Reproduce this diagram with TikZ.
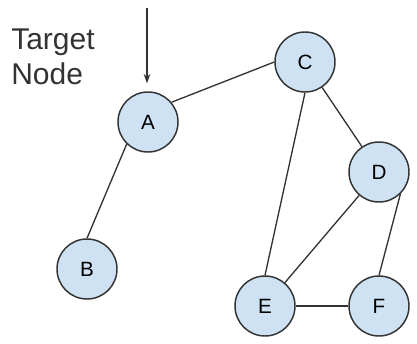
\documentclass[tikz,border=0pt]{standalone}
\usepackage{fontspec}
\setmainfont{Liberation Sans}
\usepackage{tikz}
\usetikzlibrary{arrows.meta,positioning}
\definecolor{nodefill}{HTML}{CFE2F3}
\definecolor{edgecol}{HTML}{333333}

\tikzset{
  vertex/.style={circle, draw=edgecol, fill=nodefill, line width=1.1pt,
    minimum size=45pt, inner sep=0pt, font=\fontsize{15.5}{18}\selectfont},
  edge/.style={draw=edgecol, line width=1pt}
}

\begin{document}
\begin{tikzpicture}[x=0.75pt, y=-0.75pt]
\useasboundingbox (0,0) rectangle (417,343);
\node [vertex] (A) at (148,122) {A};
\node [vertex] (B) at (87,269) {B};
\node [vertex] (C) at (305,62) {C};
\node [vertex] (D) at (379,172) {D};
\node [vertex] (E) at (265,306) {E};
\node [vertex] (F) at (379,306) {F};
% edges leave the circles at fixed points, not always centre to centre
\draw[edge] (A.40) -- (C.west);
\draw[edge] (A.-134) -- (B.north);
\draw[edge] (C) -- (D);
\draw[edge] (C.south) -- (E.north);
\draw[edge] (D) -- (E);
\draw[edge] (D.-46) -- (F.north);
\draw[edge] (E) -- (F);
% pointer at the target
\coordinate (top) at (147,8);
\draw[edge, -{Stealth[length=7pt,width=5pt]}] (top) -- ([yshift=6pt]A.north -| top);
\node [anchor=north west, inner sep=0pt, align=left,
  font=\fontsize{22.5}{26.25}\selectfont, text=edgecol] (label) at (11,29) {Target\\Node};
\end{tikzpicture}
\end{document}
